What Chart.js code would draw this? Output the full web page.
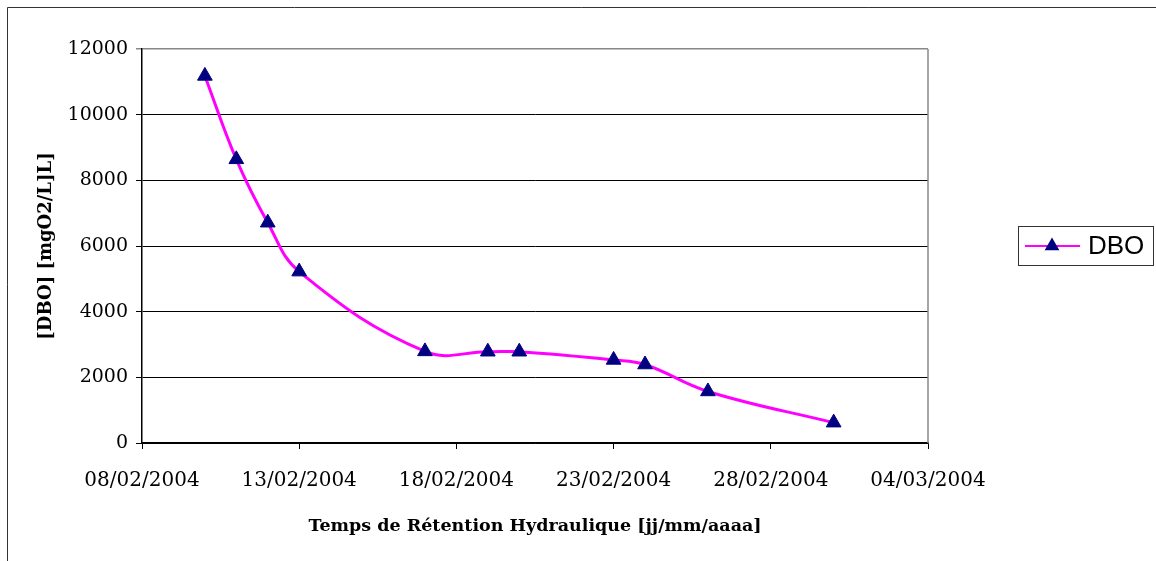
<!DOCTYPE html>
<html>
<head>
<meta charset="utf-8">
<script src="https://cdn.jsdelivr.net/npm/chart.js@4/dist/chart.umd.min.js"></script>
<style>
  html, body { margin: 0; padding: 0; background: #fff; }
  #wrap { width: 1156px; height: 561px; position: relative; }
</style>
</head>
<body>
<div id="wrap"><canvas id="myChart" width="1156" height="561"></canvas></div>
<script>
// mesures DBO
const dates = ['10/02/2004', '11/02/2004', '12/02/2004', '13/02/2004', '17/02/2004',
               '19/02/2004', '20/02/2004', '23/02/2004', '24/02/2004', '26/02/2004', '01/03/2004'];
const dbo = [11180, 8640, 6710, 5220, 2790, 2780, 2780, 2530, 2390, 1570, 620];
const startDate = '08/02/2004';
const xTickStep = 5;   // jours
const xMaxDays = 25;
const yTicks = [0, 2000, 4000, 6000, 8000, 10000, 12000];

function toDay(s){
  const p = s.split('/');
  return Date.UTC(+p[2], +p[1] - 1, +p[0]) / 86400000;
}
function fmtDay(n){
  const d = new Date((toDay(startDate) + n) * 86400000);
  const dd = String(d.getUTCDate()).padStart(2, '0');
  const mm = String(d.getUTCMonth() + 1).padStart(2, '0');
  return dd + '/' + mm + '/' + d.getUTCFullYear();
}

const points = dates.map((s, i) => ({x: toDay(s) - toDay(startDate), y: dbo[i]}));

const lineColor = '#FF00FF';
const markColor = '#000080';
const serif = '"DejaVu Serif", serif';

// cadre, bord droit du graphique et légende
const decor = {
  id: 'decor',
  beforeDatasetsDraw(chart){
    const {ctx, chartArea: a} = chart;
    ctx.save();
    ctx.strokeStyle = '#888';
    ctx.lineWidth = 1.5;
    ctx.beginPath();
    ctx.moveTo(a.right, a.top);
    ctx.lineTo(a.right, a.bottom);
    ctx.stroke();
    ctx.restore();
  },
  afterDraw(chart){
    const ctx = chart.ctx;
    ctx.save();
    ctx.strokeStyle = '#333';
    ctx.lineWidth = 1;
    ctx.beginPath();
    ctx.moveTo(7.5, 561);
    ctx.lineTo(7.5, 7.5);
    ctx.lineTo(1156, 7.5);
    ctx.stroke();

    // légende
    ctx.strokeStyle = '#333';
    ctx.strokeRect(1018.5, 226.5, 135, 39);
    const ly = 246;
    ctx.strokeStyle = lineColor;
    ctx.lineWidth = 2;
    ctx.beginPath();
    ctx.moveTo(1025, ly);
    ctx.lineTo(1080, ly);
    ctx.stroke();
    const r = 8.5;
    ctx.fillStyle = markColor;
    ctx.beginPath();
    ctx.moveTo(1052, ly - r);
    ctx.lineTo(1052 + 0.866 * r, ly + 0.5 * r);
    ctx.lineTo(1052 - 0.866 * r, ly + 0.5 * r);
    ctx.closePath();
    ctx.fill();
    ctx.fillStyle = '#000';
    ctx.font = '26px "Liberation Sans", Arial, sans-serif';
    ctx.textBaseline = 'middle';
    ctx.fillText('DBO', 1088, ly + 1);
    ctx.restore();
  }
};

const ctx = document.getElementById('myChart').getContext('2d');
const myChart = new Chart(ctx, {
  type: 'line',
  data: {
    datasets: [{
      label: 'DBO',
      data: points,
      borderColor: lineColor,
      borderWidth: 3,
      tension: 0.4,
      pointStyle: 'triangle',
      pointRadius: 8.5,
      pointBackgroundColor: markColor,
      pointBorderColor: markColor,
      pointBorderWidth: 1
    }]
  },
  options: {
    responsive: false,
    animation: false,
    layout: {padding: {top: 49, right: 228, left: 0, bottom: 0}},
    scales: {
      x: {
        type: 'linear',
        min: 0,
        max: xMaxDays,
        afterFit(s){ s.height = 118; },
        ticks: {
          stepSize: xTickStep,
          padding: 20,
          color: '#000',
          font: {family: serif, size: 20},
          callback: v => fmtDay(v)
        },
        grid: {drawOnChartArea: false, drawTicks: true, tickLength: 6, color: '#000'},
        border: {color: '#000', width: 1.5},
        title: {
          display: true,
          text: 'Temps de Rétention Hydraulique [jj/mm/aaaa]',
          color: '#000',
          font: {family: serif, size: 17.5, weight: 'bold'},
          padding: {bottom: 24}
        }
      },
      y: {
        min: 0,
        max: 12000,
        afterFit(s){ s.width = 142; },
        afterBuildTicks(s){ s.ticks = yTicks.map(v => ({value: v})); },
        ticks: {
          padding: 8,
          color: '#000',
          font: {family: serif, size: 19},
          callback: v => String(v)
        },
        grid: {
          color: c => (c.tick && c.tick.value === 12000) ? '#888' : '#000',
          lineWidth: c => (c.tick && c.tick.value === 12000) ? 1.5 : 1,
          tickLength: 6
        },
        border: {color: '#000', width: 1.5},
        title: {
          display: true,
          text: '[DBO] [mgO2/L]L]',
          color: '#000',
          font: {family: serif, size: 18, weight: 'bold'},
          padding: {top: 36}
        }
      }
    },
    plugins: {
      legend: {display: false},
      tooltip: {enabled: false}
    }
  },
  plugins: [decor]
});
</script>
</body>
</html>
